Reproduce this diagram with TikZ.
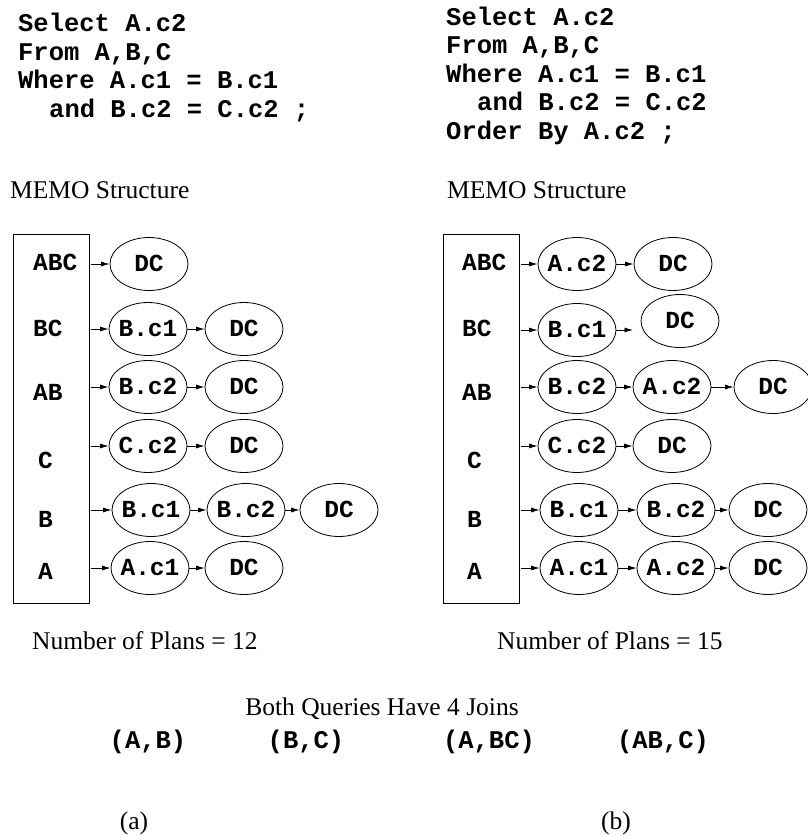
\documentclass[tikz,border=0pt]{standalone}
\usepackage{fontspec}
\setmainfont{Liberation Serif}
\setmonofont{Liberation Mono}
\usetikzlibrary{arrows.meta,positioning,shapes.geometric}

\begin{document}
\begin{tikzpicture}[
    x=1pt, y=-1pt,
    sql/.style={anchor=base west, inner sep=0pt, font=\fontsize{25.5}{28}\selectfont\ttfamily\bfseries},
    caption/.style={anchor=base west, inner sep=0pt, font=\fontsize{25.5}{30}\selectfont},
    setname/.style={anchor=base west, inner sep=0pt, font=\fontsize{24.5}{28}\selectfont\ttfamily\bfseries},
    memo/.style={rectangle, draw, line width=0.8pt, minimum width=76pt, minimum height=369pt},
    plan/.style={ellipse, draw, line width=0.8pt, minimum width=78pt, minimum height=53pt, inner xsep=-3pt, inner ysep=0pt, text height=14pt, text depth=0pt, font=\fontsize{24.5}{28}\selectfont\ttfamily\bfseries},
    arrow/.style={-{Latex[length=8.5pt,width=5pt]}, line width=0.8pt}
]
\useasboundingbox (0,0) rectangle (807,836);

% Queries
\node[sql] (q1l1) at (18,31) {Select A.c2};
\node[sql] (q1l2) at (18,60) {From A,B,C};
\node[sql] (q1l3) at (18,88) {Where A.c1 = B.c1};
\node[sql] (q1l4) at (49,117) {and B.c2 = C.c2 ;};

\node[sql] (q2l1) at (446,25) {Select A.c2};
\node[sql] (q2l2) at (446,53) {From A,B,C};
\node[sql] (q2l3) at (446,82) {Where A.c1 = B.c1};
\node[sql] (q2l4) at (477,110) {and B.c2 = C.c2};
\node[sql] (q2l5) at (446,139) {Order By A.c2 ;};

\node[caption] (memo1) at (10,198) {MEMO Structure};
\node[caption] (memo2) at (447,198) {MEMO Structure};

% Left MEMO
\node[memo] (lbox) at (51,418.5) {};
\node[setname] (lABC) at (33,270) {ABC};
\node[setname] (lBC) at (33,336) {BC};
\node[setname] (lAB) at (33,400) {AB};
\node[setname] (lC) at (38,468) {C};
\node[setname] (lB) at (38,527) {B};
\node[setname] (lA) at (38,579) {A};

\node[plan] (l1a) at (149,264) {DC};
\node[plan] (l2a) at (148,329) {B.c1};
\node[plan] (l2b) at (244,329) {DC};
\node[plan] (l3a) at (148,387) {B.c2};
\node[plan] (l3b) at (244,387) {DC};
\node[plan] (l4a) at (148,446) {C.c2};
\node[plan] (l4b) at (244,446) {DC};
\node[plan] (l5a) at (151,510) {B.c1};
\node[plan] (l5b) at (246,510) {B.c2};
\node[plan] (l5c) at (339,510) {DC};
\node[plan] (l6a) at (150,568) {A.c1};
\node[plan] (l6b) at (244,568) {DC};

\draw[arrow, shorten <=1.5pt] (lbox.east |- l1a.west) -- (l1a.west);
\draw[arrow, shorten <=1.5pt] (lbox.east |- l2a.west) -- (l2a.west);
\draw[arrow, shorten <=1.5pt] (lbox.east |- l3a.west) -- (l3a.west);
\draw[arrow, shorten <=1.5pt] (lbox.east |- l4a.west) -- (l4a.west);
\draw[arrow, shorten <=1.5pt] (lbox.east |- l5a.west) -- (l5a.west);
\draw[arrow, shorten <=1.5pt] (lbox.east |- l6a.west) -- (l6a.west);
\draw[arrow] (l2a) -- (l2b);
\draw[arrow] (l3a) -- (l3b);
\draw[arrow] (l4a) -- (l4b);
\draw[arrow] (l5a) -- (l5b);
\draw[arrow] (l5b) -- (l5c);
\draw[arrow] (l6a) -- (l6b);

% Right MEMO
\node[memo] (rbox) at (481,418.5) {};
\node[setname] (rABC) at (462,270) {ABC};
\node[setname] (rBC) at (462,336) {BC};
\node[setname] (rAB) at (462,400) {AB};
\node[setname] (rC) at (467,468) {C};
\node[setname] (rB) at (467,527) {B};
\node[setname] (rA) at (467,579) {A};

\node[plan] (r1a) at (577,264) {A.c2};
\node[plan] (r1b) at (673,264) {DC};
\node[plan] (r2a) at (577,330) {B.c1};
\node[plan] (r2b) at (680,321) {DC};
\coordinate (r2end) at (633,330);
\node[plan] (r3a) at (577,387) {B.c2};
\node[plan] (r3b) at (672,387) {A.c2};
\node[plan] (r3c) at (773,387) {DC};
\node[plan] (r4a) at (577,446) {C.c2};
\node[plan] (r4b) at (672,446) {DC};
\node[plan] (r5a) at (579,510) {B.c1};
\node[plan] (r5b) at (676,510) {B.c2};
\node[plan] (r5c) at (768,510) {DC};
\node[plan] (r6a) at (579,568) {A.c1};
\node[plan] (r6b) at (676,568) {A.c2};
\node[plan] (r6c) at (768,568) {DC};

\draw[arrow, shorten <=1.5pt] (rbox.east |- r1a.west) -- (r1a.west);
\draw[arrow, shorten <=1.5pt] (rbox.east |- r2a.west) -- (r2a.west);
\draw[arrow, shorten <=1.5pt] (rbox.east |- r3a.west) -- (r3a.west);
\draw[arrow, shorten <=1.5pt] (rbox.east |- r4a.west) -- (r4a.west);
\draw[arrow, shorten <=1.5pt] (rbox.east |- r5a.west) -- (r5a.west);
\draw[arrow, shorten <=1.5pt] (rbox.east |- r6a.west) -- (r6a.west);
\draw[arrow] (r1a) -- (r1b);
\draw[arrow] (r2a.east) -- (r2end);
\draw[arrow] (r3a) -- (r3b);
\draw[arrow] (r3b) -- (r3c);
\draw[arrow] (r4a) -- (r4b);
\draw[arrow] (r5a) -- (r5b);
\draw[arrow] (r5b) -- (r5c);
\draw[arrow] (r6a) -- (r6b);
\draw[arrow] (r6b) -- (r6c);

% Plan counts and joins
\node[caption] (plans1) at (32,649) {Number of Plans = 12};
\node[caption] (plans2) at (497,649) {Number of Plans = 15};
\node[caption, anchor=base] (joins) at (382,715) {Both Queries Have 4 Joins};
\node[sql, anchor=base] (j1) at (148,748) {(A,B)};
\node[sql, anchor=base] (j2) at (306,748) {(B,C)};
\node[sql, anchor=base] (j3) at (489,748) {(A,BC)};
\node[sql, anchor=base] (j4) at (663,748) {(AB,C)};
\node[caption, anchor=base] (suba) at (134,829) {(a)};
\node[caption, anchor=base] (subb) at (616,829) {(b)};

\end{tikzpicture}
\end{document}
